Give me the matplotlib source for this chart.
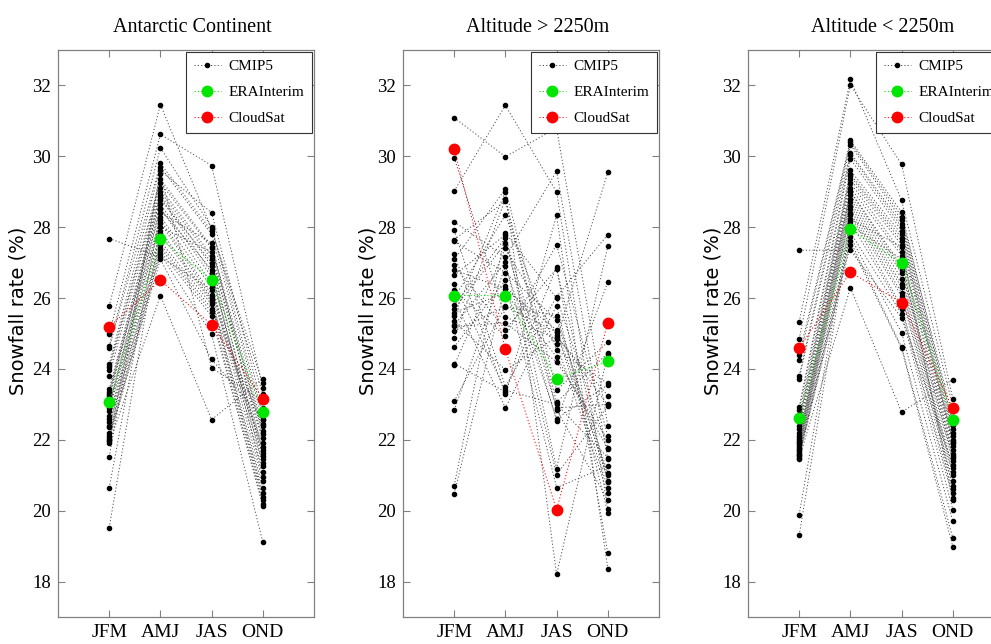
import matplotlib
matplotlib.use("Agg")
import matplotlib.pyplot as plt
from matplotlib.lines import Line2D

seasons = ["JFM", "AMJ", "JAS", "OND"]
titles = ["Antarctic Continent", "Altitude > 2250m", "Altitude < 2250m"]

# ---- Panel 1: Antarctic Continent (CMIP5 models, index-aligned across seasons)
p1_jfm = [27.68, 19.52, 20.64, 21.52, 25.77, 24.98, 24.64, 24.60, 24.13, 24.05, 23.98,
          23.80, 23.42, 23.35, 23.23, 23.15, 23.30, 23.00, 22.95, 22.90, 22.81, 22.67,
          22.60, 22.50, 22.40, 22.35, 22.20, 22.10, 22.05, 22.00, 21.96, 21.90]
p1_amj = [27.16, 28.00, 28.41, 29.60, 31.46, 30.62, 30.24, 29.80, 29.70, 29.35, 29.25,
          29.10, 29.00, 28.92, 28.78, 28.85, 28.65, 28.55, 28.50, 28.30, 28.20, 28.12,
          27.90, 27.80, 27.60, 27.50, 27.42, 27.32, 27.25, 27.10, 29.50, 26.07]
p1_jas = [26.24, 27.30, 27.56, 28.41, 27.95, 29.74, 28.00, 27.89, 27.80, 27.45, 27.40,
          27.20, 27.10, 26.90, 27.00, 26.71, 26.60, 26.40, 26.80, 26.30, 26.10, 26.00,
          25.95, 25.90, 25.82, 25.70, 25.60, 25.49, 24.98, 24.27, 24.03, 22.57]
p1_ond = [21.80, 22.25, 21.64, 22.90, 23.30, 23.47, 22.70, 23.60, 22.55, 22.38, 22.15,
          21.92, 22.05, 21.55, 21.45, 21.26, 21.35, 21.10, 20.95, 20.83, 21.70, 20.65,
          20.50, 20.40, 20.30, 22.45, 20.20, 20.13, 19.11, 22.60, 23.10, 23.73]

# ---- Panel 2: Altitude > 2250m
p2_jfm = [31.09, 29.96, 29.02, 28.15, 27.91, 27.65, 27.60, 27.23, 27.09, 26.92, 26.64,
          26.22, 26.00, 25.96, 25.70, 25.59, 25.50, 25.35, 25.23, 25.07, 24.88, 24.62,
          24.15, 24.10, 23.09, 22.84, 20.71, 20.48, 26.40, 25.80, 26.80, 25.20]
p2_amj = [29.99, 25.47, 31.44, 27.16, 23.50, 28.74, 26.72, 23.29, 29.08, 25.11, 27.79,
          24.92, 28.34, 22.90, 27.54, 26.15, 29.00, 23.97, 27.01, 25.76, 28.80, 26.50,
          23.35, 27.40, 25.77, 26.90, 27.84, 26.35, 23.40, 27.70, 26.25, 25.30]
p2_jas = [30.80, 24.85, 28.99, 29.58, 26.04, 22.84, 25.38, 28.33, 23.40, 26.83, 21.19,
          27.51, 24.53, 25.79, 22.54, 24.34, 18.20, 24.90, 21.02, 25.04, 23.06, 20.65,
          26.88, 24.95, 25.50, 22.60, 26.00, 24.70, 23.00, 22.90, 25.10, 24.20]
p2_ond = [22.40, 29.55, 20.05, 21.46, 27.79, 20.30, 21.07, 18.36, 24.76, 20.80, 27.46,
          22.10, 23.59, 19.94, 26.45, 21.75, 24.41, 23.25, 22.95, 20.65, 24.45, 21.26,
          18.81, 22.98, 20.85, 23.55, 21.78, 20.50, 21.50, 23.00, 21.00, 22.00]

# ---- Panel 3: Altitude < 2250m
p3_jfm = [27.35, 19.31, 19.89, 25.33, 24.85, 24.40, 24.25, 23.80, 23.73, 22.93, 22.85,
          22.70, 22.55, 22.49, 22.40, 22.30, 22.20, 22.10, 22.05, 22.00, 21.95, 21.90,
          21.85, 21.80, 21.75, 21.70, 21.65, 21.60, 21.58, 21.55, 21.50, 21.47]
p3_amj = [27.35, 28.05, 28.22, 32.17, 32.01, 30.45, 30.40, 30.33, 30.10, 30.05, 29.93,
          29.60, 29.50, 29.44, 29.35, 29.25, 29.11, 29.02, 29.00, 28.90, 28.80, 28.70,
          28.60, 28.50, 28.40, 28.35, 28.15, 27.85, 27.73, 27.60, 27.50, 26.29]
p3_jas = [25.44, 27.10, 27.45, 28.76, 29.77, 28.42, 28.30, 28.20, 28.10, 28.00, 27.90,
          27.80, 27.70, 27.60, 27.50, 27.30, 27.20, 26.90, 26.80, 26.70, 26.55, 26.40,
          26.30, 26.15, 26.05, 25.75, 25.68, 25.55, 25.02, 24.62, 24.58, 22.78]
p3_ond = [21.30, 20.60, 20.30, 22.95, 23.16, 22.43, 22.65, 22.30, 22.50, 22.20, 22.10,
          21.95, 22.00, 21.90, 21.82, 21.70, 21.60, 21.55, 21.50, 21.40, 21.20, 21.10,
          21.02, 20.85, 20.70, 20.50, 20.35, 20.03, 19.70, 19.23, 18.98, 23.70]

# ---- Reference datasets
era_p1 = [23.08, 27.67, 26.52, 22.79]
cloudsat_p1 = [25.19, 26.50, 25.25, 23.16]
era_p2 = [26.07, 26.07, 23.73, 24.21]
cloudsat_p2 = [30.21, 24.55, 20.03, 25.30]
era_p3 = [22.61, 27.95, 26.98, 22.57]
cloudsat_p3 = [24.60, 26.73, 25.87, 22.89]

panels = [
    (p1_jfm, p1_amj, p1_jas, p1_ond, era_p1, cloudsat_p1),
    (p2_jfm, p2_amj, p2_jas, p2_ond, era_p2, cloudsat_p2),
    (p3_jfm, p3_amj, p3_jas, p3_ond, era_p3, cloudsat_p3),
]

serif = ["Liberation Serif", "DejaVu Serif"]
sans = ["DejaVu Sans"]
GREEN = "#00e600"
RED = "#ff0000"
FRAME = "#808080"
DOTTED = (0, (1.2, 2.2))

fig = plt.figure(figsize=(9.91, 6.44), dpi=100)
lefts = [58 / 991, 403 / 991, 748 / 991]
ylab_x = [-0.118, -0.10, -0.10]
w = 256 / 991
b = 27 / 644
h = 567 / 644
x = [1, 2, 3, 4]

for i, (jfm, amj, jas, ond, era, cs) in enumerate(panels):
    ax = fig.add_axes([lefts[i], b, w, h])
    for m in range(len(jfm)):
        vals = [jfm[m], amj[m], jas[m], ond[m]]
        ax.plot(x, vals, linestyle=DOTTED, color="0.3", lw=0.7, zorder=2)
        ax.plot(x, vals, linestyle="none", marker="o", markersize=3.0,
                markerfacecolor="k", markeredgecolor="k", zorder=3)
    ax.plot(x, era, linestyle=DOTTED, color=GREEN, lw=0.7, marker="o", markersize=7.5,
            markerfacecolor=GREEN, markeredgecolor=GREEN, zorder=4)
    ax.plot(x, cs, linestyle=DOTTED, color=RED, lw=0.7, marker="o", markersize=7.5,
            markerfacecolor=RED, markeredgecolor=RED, zorder=4)
    ax.set_xlim(0, 5)
    ax.set_ylim(17, 33)
    ax.set_xticks(x)
    ax.set_xticklabels(seasons, fontfamily=serif, fontsize=14)
    ax.set_yticks(range(18, 33, 2))
    ax.set_yticklabels([str(v) for v in range(18, 33, 2)], fontfamily=serif, fontsize=13.5)
    ax.tick_params(direction="in", top=True, right=True, length=5, width=0.8,
                   color=FRAME, pad=5)
    for s in ax.spines.values():
        s.set_color(FRAME)
        s.set_linewidth(0.9)
    ax.set_title(titles[i], fontfamily=serif, fontsize=14.5, pad=13, x=0.525)
    ax.set_ylabel("Snowfall rate (%)", fontfamily=sans, fontsize=14)
    ax.yaxis.set_label_coords(ylab_x[i], 0.54)

    handles = [
        Line2D([0], [0], linestyle=DOTTED, color="0.3", lw=0.7, marker="o",
               markersize=3.0, markerfacecolor="k", markeredgecolor="k"),
        Line2D([0], [0], linestyle=DOTTED, color=GREEN, lw=0.7, marker="o", markersize=7.5),
        Line2D([0], [0], linestyle=DOTTED, color=RED, lw=0.7, marker="o", markersize=7.5),
    ]
    leg = ax.legend(handles, ["CMIP5", "ERAInterim", "CloudSat"], loc="upper right",
                    prop={"family": serif, "size": 11}, fancybox=False,
                    framealpha=1, edgecolor="#333333", borderaxespad=0.12,
                    handlelength=1.8, handletextpad=0.5, labelspacing=0.8,
                    borderpad=0.5)
    leg.get_frame().set_linewidth(0.8)

fig.savefig("out.png", dpi=100)
